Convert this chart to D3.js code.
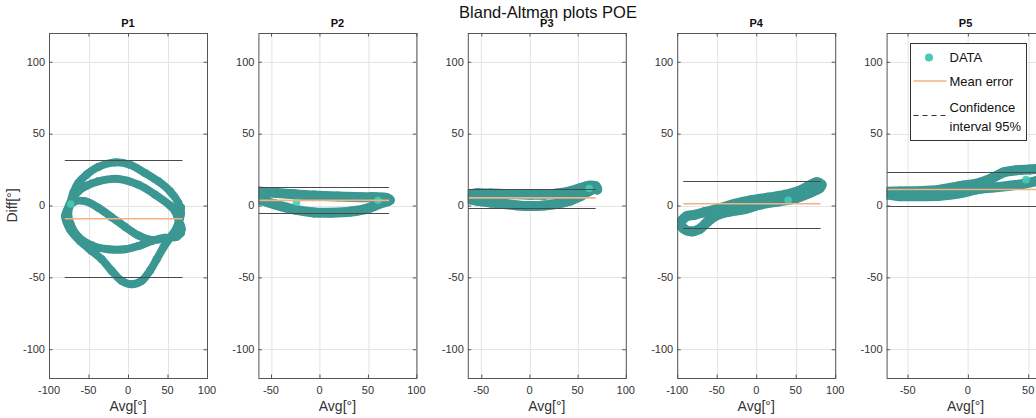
<!DOCTYPE html>
<html><head><meta charset="utf-8">
<script src="https://cdn.jsdelivr.net/npm/d3@7"></script>
<style>
body{margin:0;background:#fff;}
svg{display:block;font-family:"Liberation Sans",Arial,Helvetica,sans-serif;}
</style>
</head><body>
<svg id="chart" width="1036" height="418"></svg>
<script>
// ---------- data ----------
const chartTitle = "Bland-Altman plots POE";
const panelNames = ["P1", "P2", "P3", "P4", "P5"];
const xLimits = [[-100, 100], [-63, 100], [-64, 100], [-100, 100], [-67.4, 63.6]];
const yLimits = [-120, 120];
const yTickValues = [-100, -50, 0, 50, 100];
const xTickValues = [[-100, -50, 0, 50, 100], [-50, 0, 50, 100], [-50, 0, 50, 100], [-100, -50, 0, 50, 100], [-50, 0, 50]];
const meanError = [-9.2, 3.6, 5.3, 1.2, 11.1];
const ciUpper = [31.4, 12.8, 11.8, 16.8, 23.3];
const ciLower = [-50.0, -5.2, -1.6, -15.5, -0.6];
const avgMin = [-80, -63, -64, -92.4, -67.4];
const avgMax = [69, 71.8, 68.7, 81.5, 70];
const legendLabels = ["DATA", "Mean error", "Confidence", "interval 95%"];
const xLabel = "Avg[°]";
const yLabel = "Diff[°]";

// P1 trajectory (Avg, Diff)
const p1Avg = [-73.4, -69.2, -62.9, -52.3, -37.6, -16.5, 2.5, 21.5, 38.4, 53.2, 63.7,
  67.1, 64.6, 67.1,
  59.5, 46.8, 30.0, 13.1, -3.8, -20.7, -37.6, -54.4, -69.2,
  -75.5, -72.6, -62.9, -46.0, -24.9, -3.8, 13.1, 30.0, 46.8, 61.6,
  67.9, 62.9, 59.5,
  53.2, 34.2, 13.1, -12.3, -37.6, -52.3, -62.9, -71.3, -77.6, -79.7, -73.4, -60.8,
  -46.0, -33.3, -20.7, -8.0, 4.6, 17.3, 27.8, 36.3, 44.7, 53.2, 61.6, 65.8, 67.1];
const p1Diff = [0.7, 8.8, 15.7, 21.5, 26.8, 30.0, 28.4, 22.6, 16.8, 9.9, 1.8,
  -5.1, -13.1, -18.9,
  -21.7, -23.1, -24.0, -20.8, -14.8, -8.1, -1.6, 3.0, 2.3,
  -3.9, -13.1, -21.7, -27.7, -30.4, -30.4, -28.2, -24.7, -22.4, -21.7,
  -16.6, -8.5, -3.9,
  0.0, 7.6, 14.5, 18.5, 16.8, 13.8, 9.9, 4.2, -3.9, -7.4, -16.6, -24.7,
  -31.6, -37.4, -45.4, -52.4, -54.7, -52.4, -45.4, -37.4, -29.3, -22.4, -15.5, -7.4, -1.6];

// P2 trajectory
const p2Avg = [-63.3, -46.1, -25.5, -5.9, 19.2, 43.2, 57.0, 69.0, 72.5,
  61.9, 50.2, 32.9, 12.2, -5.9, -25.5, -46.1, -61.6];
const p2Diff = [9.7, 8.8, 7.8, 6.9, 6.2, 5.8, 5.8, 5.3, 3.7,
  1.2, -2.0, -4.2, -5.0, -4.8, -2.8, 0.8, 4.2];

// P3 trajectory
const p3Avg = [-64.2, -54.1, -40.0, -26.2, -12.4, 1.4, 15.2, 29.0, 42.8, 53.1, 61.7, 68.6, 70.3,
  68.6, 61.7, 53.1, 42.8, 29.0, 15.2, 1.4, -12.4, -26.2, -40.0, -54.1, -64.2];
const p3Diff = [7.5, 8.5, 8.3, 8.0, 7.8, 7.5, 7.5, 8.3, 10.0, 12.2, 13.8, 13.4, 11.1,
  11.8, 9.9, 6.5, 3.5, 1.2, 0.0, -0.4, 0.0, 1.0, 2.0, 3.2, 4.5];

// P4 trajectory
const p4Avg = [-95, -88, -78, -65, -48.1, -27.1, -6.0, 15.1, 36.2, 53.1, 65.8, 76.4, 82.7,
  80.6, 65.8, 48.9, 27.8, 6.7, -14.4, -35.5, -52.3, -62, -72, -82, -92, -96, -95];
const p4Diff = [-11, -7.5, -6.5, -4.6, -2.3, 1.2, 3.7, 5.5, 7.4, 9.9, 13.4, 16.1, 14.5,
  12.2, 8.3, 4.7, 2.8, 0.8, -2.5, -4.5, -7.5, -11.5, -16.5, -18, -16, -12, -11];

// P5 trajectory
const p5Avg = [-68.8, -56.4, -39.8, -23.2, -6.6, 9.9, 21.0, 29.4, 40.3, 51.4, 58.0, 64.0,
  64.0, 56.9, 45.9, 34.8, 21.0, 7.2, -6.6, -23.2, -39.8, -56.4, -67.4];
const p5Diff = [9.5, 9.8, 10.0, 11.0, 13.5, 15.8, 19.5, 23.0, 24.5, 25.0, 25.5, 26.0,
  18.0, 17.0, 15.0, 13.8, 12.5, 11.2, 8.5, 6.8, 6.5, 6.5, 7.6];

// highlighted (lighter) data points
const highlightAvg = [[-72.6], [60.4, -23.7], [62.0], [40.5], [48.1]];
const highlightDiff = [[1.0], [3.7, 2.3], [11.8], [3.7], [18.0]];

const seriesAvg = [p1Avg, p2Avg, p3Avg, p4Avg, p5Avg];
const seriesDiff = [p1Diff, p2Diff, p3Diff, p4Diff, p5Diff];

// ---------- layout / style ----------
const svg = d3.select("#chart");
const panelW = 158, panelTop = 33, panelH = 345, panelStep = 209.4, firstLeft = 49;
const bandWidth = [8, 10, 10, 10, 10];
const teal = "#3a9792", light = "#47cbb4", orange = "#f3b27f", ciColor = "#4a4a4a";
const boxColor = "#555", gridColor = "#e4e4e4", textColor = "#333333";

svg.append("text").attr("x", 548).attr("y", 17.5).attr("text-anchor", "middle")
  .attr("font-size", 16.5).attr("fill", "#111111").text(chartTitle);

panelNames.forEach((name, i) => {
  const left = firstLeft + i * panelStep;
  const x = d3.scaleLinear().domain(xLimits[i]).range([0, panelW]);
  const y = d3.scaleLinear().domain(yLimits).range([panelH, 0]);
  const g = svg.append("g").attr("transform", `translate(${left},${panelTop})`);

  const clipId = "clip" + i;
  g.append("clipPath").attr("id", clipId).append("rect")
    .attr("width", panelW).attr("height", panelH);

  // grid
  const grid = g.append("g");
  grid.selectAll(".gx").data(xTickValues[i]).join("line")
    .attr("x1", d => Math.round(x(d)) + 0.5).attr("x2", d => Math.round(x(d)) + 0.5)
    .attr("y1", 0).attr("y2", panelH).attr("stroke", gridColor).attr("stroke-width", 1);
  grid.selectAll(".gy").data(yTickValues).join("line")
    .attr("y1", d => Math.round(y(d)) + 0.5).attr("y2", d => Math.round(y(d)) + 0.5)
    .attr("x1", 0).attr("x2", panelW).attr("stroke", gridColor).attr("stroke-width", 1);

  const plot = g.append("g").attr("clip-path", `url(#${clipId})`);

  // data trajectory
  const pts = d3.zip(seriesAvg[i], seriesDiff[i]);
  const line = d3.line().x(d => x(d[0])).y(d => y(d[1])).curve(d3.curveCatmullRom.alpha(0.5));
  plot.append("path").attr("d", line(pts)).attr("fill", "none")
    .attr("stroke", teal).attr("stroke-width", bandWidth[i])
    .attr("stroke-linecap", "round").attr("stroke-linejoin", "round");
  plot.selectAll(".pt").data(pts).join("circle")
    .attr("cx", d => x(d[0])).attr("cy", d => y(d[1])).attr("r", bandWidth[i] / 2)
    .attr("fill", teal);
  const hl = d3.zip(highlightAvg[i], highlightDiff[i]);
  plot.selectAll(".hl").data(hl).join("circle")
    .attr("cx", d => x(d[0])).attr("cy", d => y(d[1])).attr("r", 3.8)
    .attr("fill", light).attr("opacity", 0.9);

  // mean line
  plot.append("line").attr("x1", x(avgMin[i])).attr("x2", x(avgMax[i]))
    .attr("y1", y(meanError[i])).attr("y2", y(meanError[i]))
    .attr("stroke", orange).attr("stroke-width", 1.6);
  // CI lines
  [ciUpper[i], ciLower[i]].forEach(v => {
    plot.append("line").attr("x1", x(avgMin[i])).attr("x2", x(avgMax[i]))
      .attr("y1", Math.round(y(v)) + 0.5).attr("y2", Math.round(y(v)) + 0.5)
      .attr("stroke", ciColor).attr("stroke-width", 1);
  });

  // axes (tick marks from d3 axes, inward)
  const styleAxis = sel => {
    sel.select(".domain").remove();
    sel.selectAll(".tick line").attr("stroke", boxColor);
    sel.selectAll(".tick text").remove();
  };
  g.append("g").call(d3.axisLeft(y).tickValues(yTickValues).tickSize(-3.5)).call(styleAxis);
  g.append("g").attr("transform", `translate(${panelW},0)`)
    .call(d3.axisRight(y).tickValues(yTickValues).tickSize(-3.5)).call(styleAxis);
  g.append("g").attr("transform", `translate(0,${panelH})`)
    .call(d3.axisBottom(x).tickValues(xTickValues[i]).tickSize(-3.5)).call(styleAxis);
  g.append("g").call(d3.axisTop(x).tickValues(xTickValues[i]).tickSize(-3.5)).call(styleAxis);

  // tick labels
  g.append("g").selectAll("text").data(yTickValues).join("text")
    .attr("x", -4).attr("y", d => y(d)).attr("dy", "0.35em").attr("text-anchor", "end")
    .attr("font-size", 11).attr("fill", textColor).text(d => d);
  g.append("g").selectAll("text").data(xTickValues[i]).join("text")
    .attr("x", d => x(d)).attr("y", panelH + 16).attr("text-anchor", "middle")
    .attr("font-size", 11).attr("fill", textColor).text(d => d);

  // box
  g.append("rect").attr("x", 0.5).attr("y", 0.5).attr("width", panelW).attr("height", panelH)
    .attr("fill", "none").attr("stroke", boxColor).attr("stroke-width", 1);

  // titles
  g.append("text").attr("x", panelW / 2).attr("y", -6).attr("text-anchor", "middle")
    .attr("font-size", 11).attr("font-weight", "bold").attr("fill", "#111111").text(name);
  g.append("text").attr("x", panelW / 2).attr("y", panelH + 33).attr("text-anchor", "middle")
    .attr("font-size", 14).attr("fill", textColor).text(xLabel);
  if (i === 0) {
    g.append("text").attr("transform", `translate(-32,${panelH / 2}) rotate(-90)`)
      .attr("text-anchor", "middle").attr("font-size", 14).attr("fill", textColor).text(yLabel);
  }
});

// legend
const lg = svg.append("g").attr("transform", "translate(910.5,43.5)");
lg.append("rect").attr("width", 116).attr("height", 97).attr("fill", "#fff")
  .attr("stroke", "#333").attr("stroke-width", 1);
lg.append("circle").attr("cx", 18.5).attr("cy", 14).attr("r", 4).attr("fill", light);
lg.append("line").attr("x1", 3).attr("x2", 36).attr("y1", 37.5).attr("y2", 37.5)
  .attr("stroke", orange).attr("stroke-width", 1.6);
lg.append("line").attr("x1", 3).attr("x2", 36).attr("y1", 72).attr("y2", 72)
  .attr("stroke", "#333").attr("stroke-width", 1).attr("stroke-dasharray", "5,4");
const ly = [18.5, 42.5, 68.5, 87.5];
legendLabels.forEach((t, k) => {
  lg.append("text").attr("x", 39).attr("y", ly[k]).attr("font-size", 13)
    .attr("fill", "#111111").text(t);
});
</script>
</body></html>
